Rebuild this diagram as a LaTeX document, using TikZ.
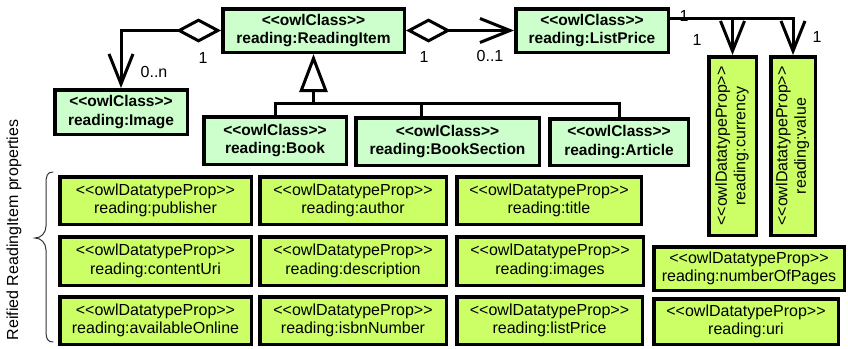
\documentclass[tikz,border=0pt]{standalone}
\usepackage{fontspec}
\setmainfont{Liberation Sans}
\usepackage{graphicx}
\usetikzlibrary{arrows.meta}

\definecolor{clsfill}{RGB}{204,255,204}
\definecolor{propfill}{RGB}{204,255,102}

% stereotype brackets kept as two separate characters
\newcommand{\stereo}[1]{<\kern0pt<#1>\kern0pt>}
% two stacked lines, turned to read from bottom to top
\newcommand{\uptext}[2]{\rotatebox{90}{\begin{tabular}{@{}c@{}}#1\\#2\end{tabular}}}

\begin{document}
\begin{tikzpicture}[x=1pt,y=-1pt,
  cls/.style={draw, line width=3.5pt, fill=clsfill, align=center, inner sep=0pt,
    font=\fontsize{15.5}{18.5}\selectfont\bfseries},
  prop/.style={draw, line width=3.5pt, fill=propfill, align=center, inner sep=0pt,
    font=\fontsize{16}{18.5}\selectfont},
  conn/.style={line width=3pt},
  aggr/.style={{Diamond[open,fill=white,length=45pt,width=24pt]}-{Straight Barb[length=30pt,width=24pt]}},
  nav/.style={-{Straight Barb[length=30pt,width=24pt]}},
  inherit/.style={-{Triangle[open,fill=white,length=38pt,width=28pt]}},
  mult/.style={font=\fontsize{16}{18}\selectfont, inner sep=0pt}]

\useasboundingbox (0,0) rectangle (848,348);

% classes
\node[cls, minimum width=181.5pt, minimum height=43.5pt] (ri)   at (313.5,30.5) {\stereo{owlClass}\\reading:ReadingItem};
\node[cls, minimum width=152.5pt, minimum height=43.5pt] (lp)   at (592,30.5)   {\stereo{owlClass}\\reading:ListPrice};
\node[cls, minimum width=132.5pt, minimum height=44.5pt] (img)  at (121,112)    {\stereo{owlClass}\\reading:Image};
\node[cls, minimum width=142.5pt, minimum height=47.5pt] (book) at (275,140.5)  {\stereo{owlClass}\\reading:Book};
\node[cls, minimum width=183.5pt, minimum height=47.5pt] (bs)   at (447.5,141.5){\stereo{owlClass}\\reading:BookSection};
\node[cls, minimum width=138.5pt, minimum height=46.5pt] (art)  at (619,142)    {\stereo{owlClass}\\reading:Article};

% ListPrice properties (upright boxes, turned text)
\node[prop, minimum width=47.5pt, minimum height=178.5pt] (cur) at (732.5,146) {\uptext{\stereo{owlDatatypeProp}}{reading:currency}};
\node[prop, minimum width=44.5pt, minimum height=178.5pt] (val) at (793,146)   {\uptext{\stereo{owlDatatypeProp}}{reading:value}};

% ReadingItem properties
\node[prop, minimum width=191.5pt, minimum height=47.5pt] (p11) at (155.5,200.5) {\stereo{owlDatatypeProp}\\reading:publisher};
\node[prop, minimum width=186.5pt, minimum height=47.5pt] (p12) at (353,200.5)   {\stereo{owlDatatypeProp}\\reading:author};
\node[prop, minimum width=184.5pt, minimum height=47.5pt] (p13) at (549,200.5)   {\stereo{owlDatatypeProp}\\reading:title};
\node[prop, minimum width=191.5pt, minimum height=48.5pt] (p21) at (155.5,261)   {\stereo{owlDatatypeProp}\\reading:contentUri};
\node[prop, minimum width=186.5pt, minimum height=48.5pt] (p22) at (353,261)     {\stereo{owlDatatypeProp}\\reading:description};
\node[prop, minimum width=186.5pt, minimum height=48.5pt] (p23) at (550,261)     {\stereo{owlDatatypeProp}\\reading:images};
\node[prop, minimum width=191.5pt, minimum height=47.5pt] (p31) at (155.5,320.5) {\stereo{owlDatatypeProp}\\reading:availableOnline};
\node[prop, minimum width=186.5pt, minimum height=47.5pt] (p32) at (353,320.5)   {\stereo{owlDatatypeProp}\\reading:isbnNumber};
\node[prop, minimum width=185.5pt, minimum height=47.5pt] (p33) at (549.5,320.5) {\stereo{owlDatatypeProp}\\reading:listPrice};
\node[prop, minimum width=190.5pt, minimum height=43.5pt] (nop) at (749,268.5)   {\stereo{owlDatatypeProp}\\reading:numberOfPages};
\node[prop, minimum width=184.5pt, minimum height=45.5pt] (uri) at (746,321.5)   {\stereo{owlDatatypeProp}\\reading:uri};

% aggregations
\draw[conn, aggr] (ri.west) -| (img.north);
\draw[conn, aggr] (ri.east) -- (lp.west);

% ListPrice navigations
\coordinate (lpout) at (lp.east |- 0,18);
\draw[conn, nav] (lpout) -| (val.north);
\draw[conn, nav] (cur.north |- lpout) -- (cur.north);

% generalisation
\coordinate (gen) at (ri.south |- 0,103);
\coordinate (bsdrop) at (421,103);
\draw[conn] (book.north) |- (gen) -| (art.north);
\draw[conn] (bsdrop) -- (bsdrop |- bs.north);
\draw[conn, inherit] (gen) -- (ri.south);

% multiplicities
\node[mult] (m1) at (203,58)  {1};
\node[mult] (m2) at (154,72)  {0..n};
\node[mult] (m3) at (424,57)  {1};
\node[mult] (m4) at (490,56)  {0..1};
\node[mult] (m5) at (684,16)  {1};
\node[mult] (m6) at (697,40)  {1};
\node[mult] (m7) at (817,37)  {1};

% grouping brace and caption
\draw[line width=1pt, black!80, line cap=round]
  (53,172) .. controls (47,172) and (46,176) .. (46,184) -- (46,226)
  .. controls (46,233) and (41,238) .. (35,238)
  .. controls (41,238) and (46,243) .. (46,250) -- (46,332)
  .. controls (46,339) and (48,342) .. (53,342);
\node[rotate=90, font=\fontsize{16}{18}\selectfont, inner sep=0pt] (cap) at (14,230) {Reified ReadingItem properties};

\end{tikzpicture}
\end{document}
